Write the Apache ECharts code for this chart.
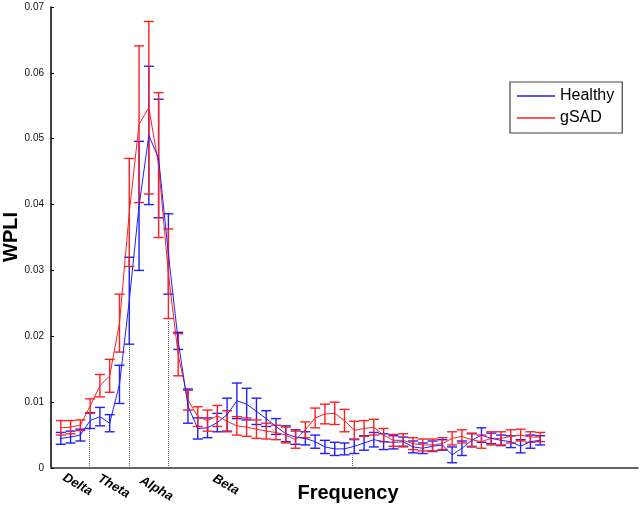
<!DOCTYPE html>
<html>
<head>
<meta charset="utf-8">
<script src="https://cdn.jsdelivr.net/npm/echarts@6/dist/echarts.min.js"></script>
<style>
html,body{margin:0;padding:0;background:#fff;}
#c{width:641px;height:508px;}
</style>
</head>
<body>
<div id="c"></div>
<script>
// Frequency (Hz)
const freqs = [1,2,3,4,5,6,7,8,9,10,11,12,13,14,15,16,17,18,19,20,21,22,23,24,25,26,27,28,29,30,31,32,33,34,35,36,37,38,39,40,41,42,43,44,45,46,47,48,49,50];
// Healthy WPLI mean and error half-width
const healthyMean = [0.0045,0.0047,0.0050,0.0072,0.0078,0.0068,0.0127,0.0254,0.0398,0.0505,0.0470,0.0325,0.0193,0.0094,0.0060,0.0061,0.0069,0.0081,0.0102,0.0097,0.0086,0.0075,0.0063,0.0052,0.0047,0.0045,0.0040,0.0032,0.0029,0.0029,0.0033,0.0038,0.0043,0.0040,0.0039,0.0040,0.0032,0.0030,0.0033,0.0035,0.0020,0.0030,0.0042,0.0050,0.0045,0.0042,0.0040,0.0033,0.0040,0.0042];
const healthyErr = [0.0009,0.0009,0.0009,0.0012,0.0014,0.0013,0.0029,0.0066,0.0098,0.0105,0.0090,0.0061,0.0013,0.0026,0.0016,0.0015,0.0014,0.0025,0.0027,0.0024,0.0020,0.0012,0.0012,0.0012,0.0011,0.0010,0.0010,0.0010,0.0010,0.0009,0.0011,0.0011,0.0011,0.0012,0.0010,0.0007,0.0009,0.0008,0.0008,0.0008,0.0012,0.0011,0.0010,0.0011,0.0008,0.0008,0.0009,0.0010,0.0010,0.0007];
// gSAD WPLI mean and error half-width
const gsadMean = [0.0061,0.0062,0.0065,0.0094,0.0125,0.0140,0.0220,0.0388,0.0522,0.0547,0.0460,0.0295,0.0172,0.0103,0.0078,0.0072,0.0079,0.0071,0.0064,0.0062,0.0059,0.0056,0.0054,0.0050,0.0043,0.0058,0.0076,0.0082,0.0083,0.0072,0.0057,0.0060,0.0062,0.0050,0.0042,0.0042,0.0037,0.0035,0.0035,0.0037,0.0045,0.0048,0.0043,0.0040,0.0045,0.0045,0.0048,0.0050,0.0047,0.0047];
const gsadErr = [0.0011,0.0010,0.0008,0.0011,0.0017,0.0025,0.0044,0.0082,0.0119,0.0131,0.0110,0.0068,0.0032,0.0015,0.0015,0.0016,0.0016,0.0016,0.0014,0.0014,0.0014,0.0012,0.0011,0.0012,0.0013,0.0012,0.0015,0.0015,0.0017,0.0017,0.0014,0.0012,0.0012,0.0010,0.0009,0.0010,0.0009,0.0009,0.0009,0.0009,0.0010,0.0010,0.0010,0.0010,0.0010,0.0010,0.0010,0.0009,0.0008,0.0007];
// Band boundaries (dotted lines) and their heights
const bandEdges = [3.95, 8.0, 11.95, 30.8];
const bandEdgeTops = [0.0064, 0.0186, 0.0224, 0.0019];
const bandNames = ['Delta','Theta','Alpha','Beta'];
const yTicks = [0, 0.01, 0.02, 0.03, 0.04, 0.05, 0.06, 0.07];

const BLUE = '#1f1fff';
const RED = '#ff1f1f';

function lineData(m){ return freqs.map((f,i)=>[f, m[i]]); }
function errData(m,e){ return freqs.map((f,i)=>[f, m[i]-e[i], m[i]+e[i]]); }
function errRender(color){
  return function(params, api){
    const x = api.value(0), lo = api.value(1), hi = api.value(2);
    const a = api.coord([x, lo]), b = api.coord([x, hi]);
    const w = 5;
    const st = {stroke: color, lineWidth: 1.4, fill: null};
    return {type:'group', children:[
      {type:'line', shape:{x1:a[0],y1:a[1],x2:b[0],y2:b[1]}, style:st},
      {type:'line', shape:{x1:a[0]-w,y1:a[1],x2:a[0]+w,y2:a[1]}, style:st},
      {type:'line', shape:{x1:b[0]-w,y1:b[1],x2:b[0]+w,y2:b[1]}, style:st}
    ]};
  };
}

const chart = echarts.init(document.getElementById('c'));
const bandPos = [[67,471],[102,472],[144,474],[217,472]];
chart.setOption({
  animation:false,
  backgroundColor:'#fff',
  grid:{left:51, right:3, top:7, bottom:40, containLabel:false},
  legend:{
    data:[{name:'Healthy', icon:'rect'},{name:'gSAD', icon:'rect'}], orient:'vertical', left:510, top:82,
    padding:[6,8,7,7], itemGap:6, itemWidth:38, itemHeight:1.5,
    borderColor:'#444', borderWidth:1.2, backgroundColor:'#fff',
    textStyle:{fontSize:16, color:'#000', fontFamily:'Liberation Sans, Arial, sans-serif'}
  },
  xAxis:{type:'value', min:0, max:60,
    axisLine:{show:true, lineStyle:{color:'#333', width:1.5}},
    axisTick:{show:false}, axisLabel:{show:false}, splitLine:{show:false}},
  yAxis:{type:'value', min:0, max:0.07, interval:0.01,
    axisLine:{show:true, lineStyle:{color:'#000', width:1.5}},
    axisTick:{show:true, inside:true, length:3, lineStyle:{color:'#000'}},
    splitLine:{show:false},
    axisLabel:{margin:7, fontSize:10, color:'#111', fontFamily:'Liberation Sans, Arial, sans-serif',
      formatter:function(v){ const t = yTicks.find(k=>Math.abs(k-v)<1e-9); return t===0 ? '0' : (t!==undefined? t.toFixed(2) : v.toFixed(2)); }}
  },
  graphic:[
    {type:'text', x:11, y:237, rotation:Math.PI/2, style:{text:'WPLI', font:'bold 20px "Liberation Sans", Arial, sans-serif', fill:'#000', textAlign:'center', textVerticalAlign:'middle'}},
    {type:'text', x:348, y:493, style:{text:'Frequency', font:'bold 20px "Liberation Sans", Arial, sans-serif', fill:'#000', textAlign:'center', textVerticalAlign:'middle'}}
  ].concat(bandNames.map((n,i)=>({type:'text', x:bandPos[i][0], y:bandPos[i][1], rotation:-Math.PI/6,
      style:{text:n, font:'italic bold 13px "Liberation Sans", Arial, sans-serif', fill:'#000', textAlign:'left', textVerticalAlign:'top'}}))),
  series:[
    {name:'Healthy SEM', type:'custom', renderItem:errRender(BLUE), data:errData(healthyMean, healthyErr), z:2, silent:true},
    {name:'gSAD SEM', type:'custom', renderItem:errRender(RED), data:errData(gsadMean, gsadErr), z:3, silent:true},
    {name:'gSAD', type:'line', data:lineData(gsadMean), symbol:'none', lineStyle:{color:RED, width:1}, itemStyle:{color:RED}, z:4,
      markLine:{silent:true, symbol:'none', label:{show:false}, lineStyle:{color:'#555', type:'dotted', width:1},
        data: bandEdges.map((x,i)=>[{coord:[x,0]},{coord:[x,bandEdgeTops[i]]}])}},
    {name:'Healthy', type:'line', data:lineData(healthyMean), symbol:'none', lineStyle:{color:BLUE, width:1}, itemStyle:{color:BLUE}, z:5}
  ]
});
</script>
</body>
</html>
